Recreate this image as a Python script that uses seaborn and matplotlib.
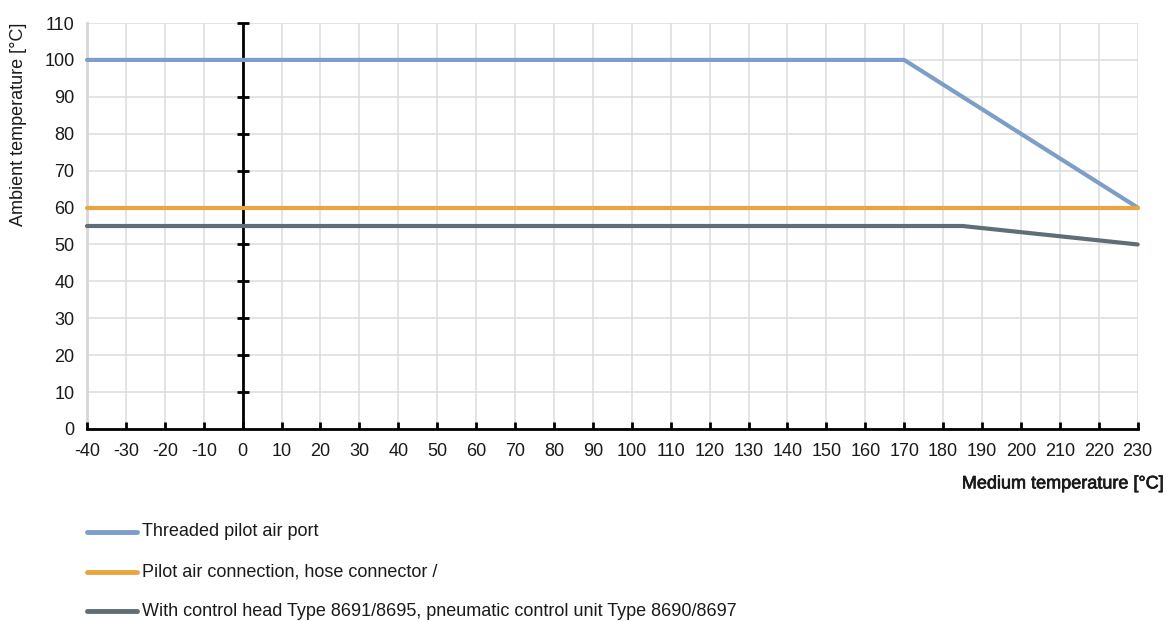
import matplotlib
matplotlib.use("Agg")
import matplotlib.pyplot as plt
import matplotlib.patheffects as pe
import numpy as np
import pandas as pd
import seaborn as sns
from matplotlib.lines import Line2D

# medium temperature breakpoints and ambient limits per variant
threaded_x = [-40, 170, 230]
threaded_y = [100, 100, 60]
hose_x = [-40, 230]
hose_y = [60, 60]
control_x = [-40, 185, 230]
control_y = [55, 55, 50]

labels = [
    "Threaded pilot air port",
    "Pilot air connection, hose connector /",
    "With control head Type 8691/8695, pneumatic control unit Type 8690/8697",
]
colors = ["#7d9ec9", "#e8a540", "#5f6d75"]

x_ticks = list(range(-40, 231, 10))
y_ticks = list(range(0, 111, 10))

df = pd.concat(
    [
        pd.DataFrame({"medium": threaded_x, "ambient": threaded_y, "series": labels[0]}),
        pd.DataFrame({"medium": hose_x, "ambient": hose_y, "series": labels[1]}),
        pd.DataFrame({"medium": control_x, "ambient": control_y, "series": labels[2]}),
    ],
    ignore_index=True,
)

sns.set_theme(style="white")
plt.rcParams["font.family"] = ["Liberation Sans", "DejaVu Sans"]
plt.rcParams["axes.unicode_minus"] = False

FS = 13
TXT = "#1a1a1a"

fig = plt.figure(figsize=(11.68, 6.22), dpi=100)
ax = fig.add_axes([0.0745, 0.3103, 0.8995, 0.6527])

ax.set_xlim(-40, 230)
ax.set_ylim(0, 110)
ax.set_xticks(x_ticks)
ax.set_yticks(y_ticks)
ax.grid(True, color="#dcdcdc", linewidth=1.1)
ax.set_axisbelow(True)

for s in ["top", "right"]:
    ax.spines[s].set_visible(False)
ax.spines["left"].set_color("#d6d6d6")
ax.spines["left"].set_linewidth(2)
ax.spines["bottom"].set_color("black")
ax.spines["bottom"].set_linewidth(2)
ax.spines["bottom"].set_zorder(5)

# black vertical axis at 0 °C with cross ticks
ax.axvline(0, color="black", linewidth=2, zorder=4)
ax.plot(np.zeros(len(y_ticks[1:])), y_ticks[1:], linestyle="none", marker="_",
        markersize=8, markeredgewidth=2, color="black", zorder=4, clip_on=False)
# small upward ticks on bottom axis
ax.plot(x_ticks, np.zeros(len(x_ticks)), linestyle="none", marker=2,
        markersize=5, markeredgewidth=2, color="black", zorder=5, clip_on=False)

sns.lineplot(data=df, x="medium", y="ambient", hue="series", palette=colors,
             linewidth=3, legend=False, ax=ax, zorder=6, clip_on=False)

ax.tick_params(axis="both", length=0, labelsize=FS, colors=TXT)
ax.tick_params(axis="x", pad=10)
ax.tick_params(axis="y", pad=9)
ax.set_xlabel("")
ax.set_ylabel("")
fig.text(0.016, 0.80, "Ambient temperature [°C]", rotation=90, ha="center", va="center",
         fontsize=FS, color=TXT)
fig.text(0.996, 0.222, "Medium temperature [°C]", ha="right", va="center",
         fontsize=FS, color=TXT,
         path_effects=[pe.withStroke(linewidth=0.5, foreground=TXT)])

legend_y = [532, 572, 611]
for lab, col, py in zip(labels, colors, legend_y):
    yy = 1 - py / 622
    fig.add_artist(Line2D([87 / 1168, 137 / 1168], [yy, yy], color=col, linewidth=3.5,
                          solid_capstyle="round", transform=fig.transFigure))
    fig.text(142 / 1168, yy, lab, ha="left", va="center", fontsize=FS, color=TXT)

fig.savefig("out.png", dpi=100, facecolor="white")
